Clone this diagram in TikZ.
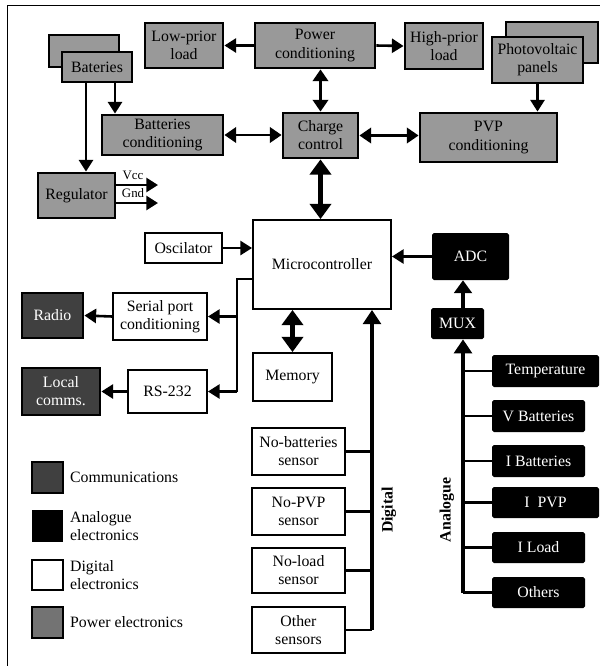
\documentclass[tikz,border=0pt]{standalone}
\usepackage{fontspec}
\setmainfont{Liberation Serif}
\usetikzlibrary{arrows.meta}
\usetikzlibrary{calc}

\begin{document}
\begin{tikzpicture}[x=0.03cm, y=-0.03cm,
  font=\fontsize{13.5}{15.5}\selectfont,
  power/.style={draw, line width=2.4pt, fill=black!40, align=center, inner sep=0pt},
  comms/.style={power, fill=black!75, text=white},
  analog/.style={fill=black, text=white, rounded corners=1.5pt, align=center, inner sep=0pt},
  digi/.style={draw, line width=1.6pt, fill=white, align=center, inner sep=0pt},
  link/.style={line width=2.2pt, -{Triangle[length=10pt,width=12pt]}},
  twoway/.style={line width=2.4pt, {Triangle[length=10pt,width=13pt]}-{Triangle[length=10pt,width=13pt]}},
  heavy/.style={line width=4.5pt, {Triangle[length=13pt,width=18pt]}-{Triangle[length=13pt,width=18pt]}},
  bus/.style={line width=4pt},
  tap/.style={line width=2.5pt}]
\useasboundingbox (0,0) rectangle (607,666);
\draw[line width=0.8pt] (7,666) -- (7,5) -- (600,5);

\node[power, minimum width=2.1cm, minimum height=0.96cm] (batB) at (84,51) {};
\node[power, minimum width=2.1cm, minimum height=0.9cm] (bat) at (97,67) {Bateries};
\node[power, minimum width=2.34cm, minimum height=1.35cm] (low) at (184,45.5) {Low-prior\\load};
\node[power, minimum width=3.6cm, minimum height=1.35cm] (pow) at (315,45.5) {Power\\conditioning};
\node[power, minimum width=2.34cm, minimum height=1.38cm] (high) at (444,46) {High-prior\\load};
\node[power, minimum width=2.76cm, minimum height=1.23cm] (pvB) at (552,42.5) {};
\node[power, minimum width=2.73cm, minimum height=1.38cm] (pv) at (537.5,60) {Photovoltaic\\panels};
\node[power, minimum width=3.63cm, minimum height=1.2cm] (batc) at (162.5,135) {Batteries\\conditioning};
\node[power, minimum width=2.25cm, minimum height=1.35cm] (chg) at (320.5,135.5) {Charge\\control};
\node[power, minimum width=4.11cm, minimum height=1.47cm] (pvpc) at (488.5,137.5) {PVP\\conditioning};
\node[power, minimum width=2.31cm, minimum height=1.35cm] (reg) at (76.5,195.5) {Regulator};

\node[digi, minimum width=2.31cm, minimum height=0.9cm] (osc) at (183.5,248) {Oscilator};
\node[digi, minimum width=4.14cm, minimum height=2.67cm] (mcu) at (322,264.5) {Microcontroller};
\node[digi, minimum width=2.82cm, minimum height=1.41cm] (ser) at (160,316.5) {Serial port\\conditioning};
\node[digi, minimum width=2.37cm, minimum height=1.29cm] (rs) at (167.5,391.5) {RS-232};
\node[digi, minimum width=2.37cm, minimum height=1.44cm] (mem) at (292.5,377) {Memory};
\node[comms, minimum width=1.83cm, minimum height=1.35cm] (radio) at (52.5,315.5) {Radio};
\node[comms, minimum width=2.34cm, minimum height=1.41cm] (local) at (61,391.5) {Local\\comms.};

\node[digi, minimum width=2.79cm, minimum height=1.41cm] (nobat) at (298.5,451.5) {No-batteries\\sensor};
\node[digi, minimum width=2.79cm, minimum height=1.41cm] (nopvp) at (298.5,511.5) {No-PVP\\sensor};
\node[digi, minimum width=2.79cm, minimum height=1.35cm] (noload) at (298.5,570.5) {No-load\\sensor};
\node[digi, minimum width=2.79cm, minimum height=1.38cm] (other) at (298.5,630) {Other\\sensors};

\node[analog, minimum width=2.31cm, minimum height=1.41cm] (adc) at (470.5,256.5) {ADC};
\node[analog, minimum width=1.59cm, minimum height=0.93cm] (mux) at (457.5,323.5) {MUX};
\node[analog, minimum width=3.21cm, minimum height=0.96cm] (temp) at (545.5,371) {Temperature};
\node[analog, minimum width=2.79cm, minimum height=0.96cm] (vbat) at (538.5,416) {V Batteries};
\node[analog, minimum width=2.79cm, minimum height=0.96cm] (ibat) at (538.5,461) {I Batteries};
\node[analog, minimum width=3.21cm, minimum height=0.93cm] (ipvp) at (545.5,502.5) {I~~PVP};
\node[analog, minimum width=2.79cm, minimum height=0.93cm] (iload) at (538.5,547.5) {I Load};
\node[analog, minimum width=2.79cm, minimum height=0.93cm] (others) at (538.5,592.5) {Others};

\node[comms, minimum width=0.93cm, minimum height=0.93cm] (keyc) at (47.5,477.5) {};
\node[analog, rounded corners=0pt, minimum width=0.93cm, minimum height=0.96cm] (keya) at (47.5,526) {};
\node[digi, minimum width=0.93cm, minimum height=0.9cm] (keyd) at (47.5,575) {};
\node[power, fill=black!55, minimum width=0.93cm, minimum height=0.93cm] (keyp) at (47.5,622.5) {};
\node[anchor=west] (keyctext) at (66,477.5) {Communications};
\node[anchor=west, align=left] (keyatext) at (66,526) {Analogue\\electronics};
\node[anchor=west, align=left] (keydtext) at (66,575) {Digital\\electronics};
\node[anchor=west] (keyptext) at (66,622.5) {Power electronics};

\coordinate (vcc) at (158,185);
\coordinate (gnd) at (158,203);
\coordinate (bend) at (237,279);
\coordinate (abus) at (463,593);
\coordinate (dbus) at (372,630);

\draw[link] (pow.west) -- (low.east);
\draw[link] (pow.east) -- (high.west);
\draw[twoway] (chg.north |- pow.south) -- (chg.north);
\draw[twoway] (batc.east) -- (batc.east -| chg.west);
\draw[twoway] (chg.east) -- (chg.east -| pvpc.west);
\draw[link] (pv.south) -- (pv.south |- pvpc.north);
\draw[link] ([xshift=0.54cm]bat.south) -- ([xshift=0.54cm]bat.south |- batc.north);
\draw[link] ([xshift=-0.33cm]bat.south) -- ([xshift=-0.33cm]bat.south |- reg.north);
\draw[link] (reg.east |- vcc) -- node[above, pos=0.4, font=\fontsize{11}{12}\selectfont] (vcctext) {Vcc} (vcc);
\draw[link] (reg.east |- gnd) -- node[above, pos=0.4, font=\fontsize{11}{12}\selectfont] (gndtext) {Gnd} (gnd);
\draw[heavy] (chg.south) -- (chg.south |- mcu.north);

\draw[link] (osc.east) -- (osc.east -| mcu.west);
\draw[line width=2.2pt] (mcu.west |- bend) -- (bend) -- (bend |- rs.east);
\draw[link] (bend |- ser.east) -- (ser.east);
\draw[link] (bend |- rs.east) -- (rs.east);
\draw[link] (ser.west) -- (radio.east);
\draw[link] (rs.west) -- (local.east);
\draw[heavy] (mem.north) -- (mem.north |- mcu.south);
\draw[link] (adc.west) -- (adc.west -| mcu.east);

\draw[line width=3.5pt, -{Triangle[length=11pt,width=15pt]}] (mux.north -| abus) -- (adc.south -| abus);
\draw[bus, -{Triangle[length=12pt,width=15pt]}] (abus) -- (mux.south -| abus);
\foreach \s in {temp,vbat,ibat,ipvp,iload,others}
  \draw[tap] (\s.west) -- (\s.west -| abus);
\node[rotate=90, font=\bfseries\fontsize{13.5}{15}\selectfont] (analogue) at (447,510) {Analogue};

\draw[bus, -{Triangle[length=12pt,width=15pt]}] (dbus) -- (dbus |- mcu.south);
\foreach \s in {nobat,nopvp,noload,other}
  \draw[tap] (\s.east) -- (\s.east -| dbus);
\node[rotate=90, font=\bfseries\fontsize{13.5}{15}\selectfont] (digital) at (389,510) {Digital};
\end{tikzpicture}
\end{document}
